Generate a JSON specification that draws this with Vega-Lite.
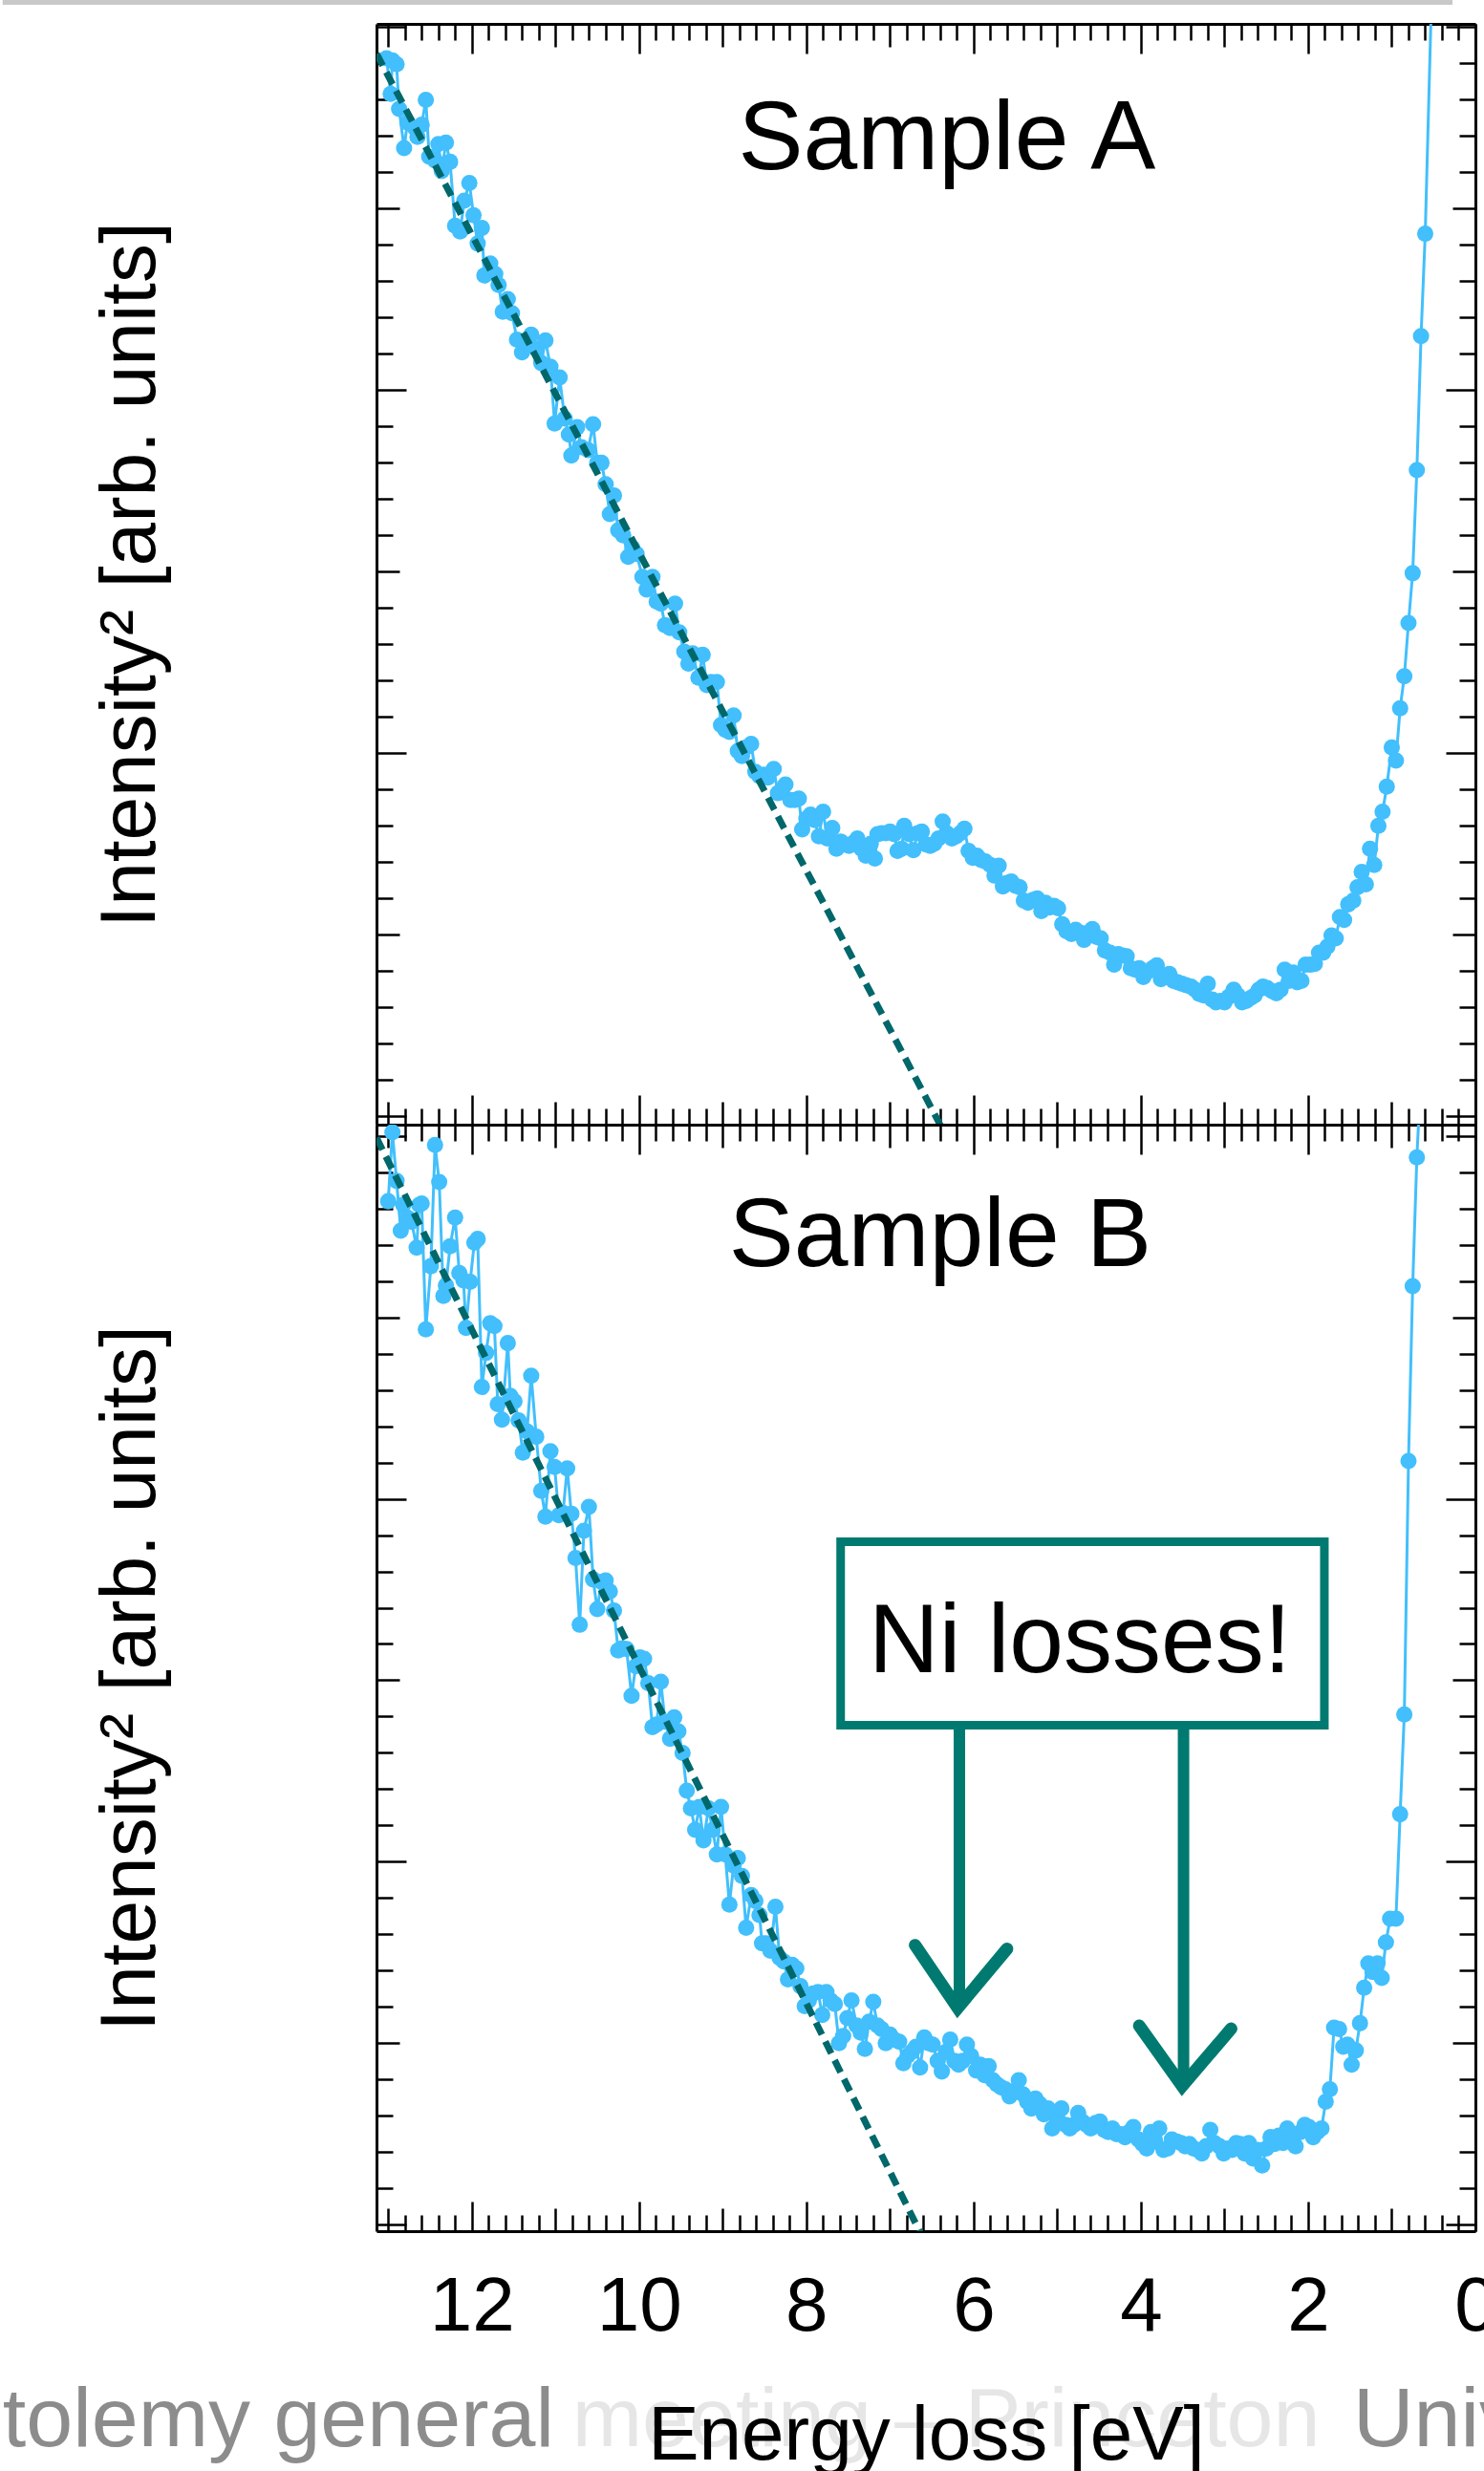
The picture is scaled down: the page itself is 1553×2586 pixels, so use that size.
{
  "$schema": "https://vega.github.io/schema/vega-lite/v6.json",
  "background": "white",
  "padding": 0,
  "autosize": {"type": "pad"},
  "spacing": 0,
  "bounds": "flush",
  "config": {
    "font": "Liberation Sans, Arial, sans-serif",
    "view": {"stroke": null},
    "axis": {"labelFont": "Liberation Sans, Arial, sans-serif", "titleFont": "Liberation Sans, Arial, sans-serif", "grid": false, "minExtent": 0, "maxExtent": 3000, "tickColor": "black", "domainColor": "black"}
  },
  "datasets": {
    "sampleA": [
      {"energy":13.02,"intensity":29.12},{"energy":12.97,"intensity":28.14},{"energy":12.95,"intensity":29.06},{"energy":12.90,"intensity":28.96},{"energy":12.87,"intensity":27.73},{"energy":12.81,"intensity":26.65},{"energy":12.77,"intensity":27.35},{"energy":12.68,"intensity":27.20},{"energy":12.65,"intensity":26.96},{"energy":12.60,"intensity":27.29},
      {"energy":12.55,"intensity":27.98},{"energy":12.51,"intensity":26.41},{"energy":12.44,"intensity":26.31},{"energy":12.40,"intensity":26.76},{"energy":12.36,"intensity":26.02},{"energy":12.31,"intensity":26.80},{"energy":12.26,"intensity":26.27},{"energy":12.20,"intensity":24.51},{"energy":12.14,"intensity":24.35},{"energy":12.09,"intensity":25.20},
      {"energy":12.03,"intensity":25.69},{"energy":11.98,"intensity":24.80},{"energy":11.93,"intensity":24.02},{"energy":11.88,"intensity":24.45},{"energy":11.85,"intensity":23.14},{"energy":11.78,"intensity":23.47},{"energy":11.72,"intensity":23.18},{"energy":11.68,"intensity":22.88},{"energy":11.63,"intensity":22.14},{"energy":11.57,"intensity":22.49},
      {"energy":11.52,"intensity":22.10},{"energy":11.46,"intensity":21.37},{"energy":11.40,"intensity":21.02},{"energy":11.35,"intensity":21.27},{"energy":11.29,"intensity":21.51},{"energy":11.23,"intensity":21.12},{"energy":11.17,"intensity":20.73},{"energy":11.12,"intensity":21.35},{"energy":11.06,"intensity":20.63},{"energy":11.01,"intensity":19.06},
      {"energy":10.95,"intensity":20.33},{"energy":10.89,"intensity":19.20},{"energy":10.84,"intensity":18.76},{"energy":10.81,"intensity":18.18},{"energy":10.74,"intensity":18.96},{"energy":10.69,"intensity":18.41},{"energy":10.61,"intensity":18.33},{"energy":10.55,"intensity":19.04},{"energy":10.50,"intensity":17.98},{"energy":10.45,"intensity":17.98},
      {"energy":10.40,"intensity":17.39},{"energy":10.35,"intensity":16.57},{"energy":10.30,"intensity":17.08},{"energy":10.25,"intensity":16.12},{"energy":10.19,"intensity":15.98},{"energy":10.13,"intensity":15.39},{"energy":10.08,"intensity":15.63},{"energy":10.03,"intensity":15.47},{"energy":9.96,"intensity":14.84},{"energy":9.91,"intensity":14.49},
      {"energy":9.84,"intensity":14.84},{"energy":9.79,"intensity":14.16},{"energy":9.74,"intensity":14.10},{"energy":9.69,"intensity":13.51},{"energy":9.63,"intensity":13.43},{"energy":9.57,"intensity":14.10},{"energy":9.52,"intensity":13.31},{"energy":9.46,"intensity":12.78},{"energy":9.41,"intensity":12.45},{"energy":9.36,"intensity":12.73},
      {"energy":9.29,"intensity":12.06},{"energy":9.24,"intensity":12.69},{"energy":9.19,"intensity":11.86},{"energy":9.14,"intensity":11.94},{"energy":9.07,"intensity":11.94},{"energy":9.02,"intensity":10.76},{"energy":8.97,"intensity":10.63},{"energy":8.92,"intensity":10.57},{"energy":8.87,"intensity":11.02},{"energy":8.82,"intensity":10.04},
      {"energy":8.77,"intensity":9.90},{"energy":8.72,"intensity":10.14},{"energy":8.66,"intensity":10.24},{"energy":8.61,"intensity":9.47},{"energy":8.56,"intensity":9.35},{"energy":8.51,"intensity":9.39},{"energy":8.46,"intensity":9.31},{"energy":8.39,"intensity":9.55},{"energy":8.34,"intensity":8.88},{"energy":8.29,"intensity":8.96},
      {"energy":8.25,"intensity":9.12},{"energy":8.19,"intensity":8.69},{"energy":8.14,"intensity":8.69},{"energy":8.09,"intensity":8.73},{"energy":8.05,"intensity":7.88},{"energy":8.00,"intensity":8.18},{"energy":7.95,"intensity":8.29},{"energy":7.90,"intensity":8.14},{"energy":7.85,"intensity":7.69},{"energy":7.80,"intensity":8.37},
      {"energy":7.75,"intensity":7.63},{"energy":7.69,"intensity":7.92},{"energy":7.64,"intensity":7.35},{"energy":7.59,"intensity":7.55},{"energy":7.54,"intensity":7.47},{"energy":7.49,"intensity":7.43},{"energy":7.44,"intensity":7.51},{"energy":7.39,"intensity":7.63},{"energy":7.34,"intensity":7.35},{"energy":7.29,"intensity":7.16},
      {"energy":7.23,"intensity":7.49},{"energy":7.18,"intensity":7.08},{"energy":7.15,"intensity":7.75},{"energy":7.10,"intensity":7.78},{"energy":7.05,"intensity":7.78},{"energy":7.00,"intensity":7.82},{"energy":6.95,"intensity":7.75},{"energy":6.91,"intensity":7.29},{"energy":6.86,"intensity":7.35},{"energy":6.83,"intensity":7.98},
      {"energy":6.77,"intensity":7.75},{"energy":6.72,"intensity":7.31},{"energy":6.67,"intensity":7.78},{"energy":6.62,"intensity":7.82},{"energy":6.57,"intensity":7.47},{"energy":6.52,"intensity":7.43},{"energy":6.47,"intensity":7.49},{"energy":6.42,"intensity":7.63},{"energy":6.37,"intensity":8.10},{"energy":6.32,"intensity":7.78},
      {"energy":6.26,"intensity":7.63},{"energy":6.21,"intensity":7.69},{"energy":6.16,"intensity":7.78},{"energy":6.11,"intensity":7.90},{"energy":6.06,"intensity":7.29},{"energy":6.01,"intensity":7.10},{"energy":5.96,"intensity":7.16},{"energy":5.91,"intensity":7.04},{"energy":5.86,"intensity":7.00},{"energy":5.80,"intensity":6.90},
      {"energy":5.75,"intensity":6.61},{"energy":5.70,"intensity":6.88},{"energy":5.65,"intensity":6.31},{"energy":5.60,"intensity":6.41},{"energy":5.55,"intensity":6.45},{"energy":5.50,"intensity":6.33},{"energy":5.45,"intensity":6.29},{"energy":5.40,"intensity":5.92},{"energy":5.35,"intensity":5.86},{"energy":5.29,"intensity":5.94},
      {"energy":5.24,"intensity":5.98},{"energy":5.19,"intensity":5.63},{"energy":5.14,"intensity":5.86},{"energy":5.09,"intensity":5.73},{"energy":5.04,"intensity":5.78},{"energy":4.99,"intensity":5.71},{"energy":4.94,"intensity":5.27},{"energy":4.89,"intensity":5.08},{"energy":4.83,"intensity":5.00},{"energy":4.78,"intensity":5.12},
      {"energy":4.73,"intensity":5.04},{"energy":4.68,"intensity":4.84},{"energy":4.63,"intensity":5.04},{"energy":4.58,"intensity":5.14},{"energy":4.53,"intensity":4.92},{"energy":4.48,"intensity":4.88},{"energy":4.43,"intensity":4.55},{"energy":4.37,"intensity":4.49},{"energy":4.32,"intensity":4.16},{"energy":4.27,"intensity":4.45},
      {"energy":4.22,"intensity":4.41},{"energy":4.17,"intensity":4.39},{"energy":4.12,"intensity":4.06},{"energy":4.07,"intensity":4.02},{"energy":4.02,"intensity":4.06},{"energy":3.97,"intensity":3.82},{"energy":3.92,"intensity":3.96},{"energy":3.86,"intensity":4.06},{"energy":3.81,"intensity":4.14},{"energy":3.76,"intensity":3.76},
      {"energy":3.71,"intensity":3.86},{"energy":3.66,"intensity":3.90},{"energy":3.61,"intensity":3.71},{"energy":3.56,"intensity":3.67},{"energy":3.51,"intensity":3.63},{"energy":3.46,"intensity":3.59},{"energy":3.40,"intensity":3.55},{"energy":3.35,"intensity":3.47},{"energy":3.30,"intensity":3.35},{"energy":3.25,"intensity":3.31},
      {"energy":3.20,"intensity":3.63},{"energy":3.15,"intensity":3.20},{"energy":3.10,"intensity":3.12},{"energy":3.05,"intensity":3.16},{"energy":3.00,"intensity":3.12},{"energy":2.95,"intensity":3.27},{"energy":2.89,"intensity":3.47},{"energy":2.84,"intensity":3.31},{"energy":2.79,"intensity":3.12},{"energy":2.74,"intensity":3.16},
      {"energy":2.69,"intensity":3.24},{"energy":2.64,"intensity":3.31},{"energy":2.59,"intensity":3.47},{"energy":2.54,"intensity":3.55},{"energy":2.49,"intensity":3.51},{"energy":2.43,"intensity":3.43},{"energy":2.38,"intensity":3.37},{"energy":2.33,"intensity":3.47},{"energy":2.28,"intensity":4.02},{"energy":2.23,"intensity":3.71},
      {"energy":2.18,"intensity":3.94},{"energy":2.13,"intensity":3.67},{"energy":2.08,"intensity":3.71},{"energy":2.03,"intensity":4.16},{"energy":1.97,"intensity":4.16},{"energy":1.92,"intensity":4.18},{"energy":1.87,"intensity":4.49},{"energy":1.82,"intensity":4.49},{"energy":1.77,"intensity":4.65},{"energy":1.72,"intensity":4.96},
      {"energy":1.67,"intensity":4.88},{"energy":1.62,"intensity":5.47},{"energy":1.57,"intensity":5.39},{"energy":1.52,"intensity":5.82},{"energy":1.46,"intensity":5.92},{"energy":1.41,"intensity":6.29},{"energy":1.36,"intensity":6.71},{"energy":1.31,"intensity":6.37},{"energy":1.26,"intensity":7.35},{"energy":1.21,"intensity":6.90},
      {"energy":1.16,"intensity":7.98},{"energy":1.11,"intensity":8.37},{"energy":1.06,"intensity":9.06},{"energy":1.00,"intensity":10.14},{"energy":0.95,"intensity":9.78},{"energy":0.90,"intensity":11.22},{"energy":0.85,"intensity":12.10},{"energy":0.80,"intensity":13.57},{"energy":0.75,"intensity":14.94},{"energy":0.70,"intensity":17.78},
      {"energy":0.65,"intensity":21.47},{"energy":0.60,"intensity":24.29},{"energy":0.52,"intensity":31.20}
    ],
    "sampleB": [
      {"energy":13.00,"intensity":28.20},{"energy":12.95,"intensity":30.10},{"energy":12.90,"intensity":28.76},{"energy":12.85,"intensity":27.39},{"energy":12.82,"intensity":28.10},{"energy":12.77,"intensity":27.75},{"energy":12.72,"intensity":27.63},{"energy":12.66,"intensity":26.92},{"energy":12.63,"intensity":28.10},{"energy":12.60,"intensity":28.14},
      {"energy":12.55,"intensity":24.67},{"energy":12.49,"intensity":26.41},{"energy":12.44,"intensity":29.75},{"energy":12.39,"intensity":28.73},{"energy":12.34,"intensity":25.59},{"energy":12.31,"intensity":25.88},{"energy":12.26,"intensity":26.96},{"energy":12.20,"intensity":27.75},{"energy":12.15,"intensity":26.22},{"energy":12.10,"intensity":26.02},
      {"energy":12.07,"intensity":24.71},{"energy":12.02,"intensity":25.98},{"energy":11.97,"intensity":27.06},{"energy":11.93,"intensity":27.16},{"energy":11.88,"intensity":23.08},{"energy":11.83,"intensity":24.02},{"energy":11.78,"intensity":24.84},{"energy":11.73,"intensity":24.76},{"energy":11.69,"intensity":22.61},{"energy":11.64,"intensity":22.18},
      {"energy":11.57,"intensity":24.29},{"energy":11.54,"intensity":22.84},{"energy":11.49,"intensity":22.69},{"energy":11.44,"intensity":22.16},{"energy":11.39,"intensity":21.27},{"energy":11.34,"intensity":21.86},{"energy":11.29,"intensity":23.39},{"energy":11.23,"intensity":21.71},{"energy":11.17,"intensity":20.22},{"energy":11.12,"intensity":19.51},
      {"energy":11.06,"intensity":21.31},{"energy":11.01,"intensity":20.88},{"energy":10.96,"intensity":19.55},{"energy":10.91,"intensity":19.61},{"energy":10.86,"intensity":20.84},{"energy":10.81,"intensity":19.59},{"energy":10.76,"intensity":18.37},{"energy":10.71,"intensity":16.53},{"energy":10.66,"intensity":19.12},{"energy":10.60,"intensity":19.78},
      {"energy":10.55,"intensity":17.78},{"energy":10.50,"intensity":16.96},{"energy":10.45,"intensity":17.71},{"energy":10.40,"intensity":17.75},{"energy":10.35,"intensity":17.45},{"energy":10.30,"intensity":16.92},{"energy":10.25,"intensity":15.82},{"energy":10.20,"intensity":15.88},{"energy":10.15,"intensity":15.86},{"energy":10.09,"intensity":14.57},
      {"energy":10.04,"intensity":15.39},{"energy":9.99,"intensity":15.63},{"energy":9.94,"intensity":15.59},{"energy":9.89,"intensity":14.92},{"energy":9.84,"intensity":13.71},{"energy":9.79,"intensity":13.78},{"energy":9.74,"intensity":14.96},{"energy":9.69,"intensity":13.86},{"energy":9.63,"intensity":13.39},{"energy":9.58,"intensity":13.98},
      {"energy":9.53,"intensity":13.59},{"energy":9.48,"intensity":13.00},{"energy":9.43,"intensity":11.96},{"energy":9.38,"intensity":11.47},{"energy":9.33,"intensity":10.88},{"energy":9.28,"intensity":11.51},{"energy":9.23,"intensity":10.59},{"energy":9.17,"intensity":11.47},{"energy":9.12,"intensity":10.88},{"energy":9.07,"intensity":10.20},
      {"energy":9.02,"intensity":11.51},{"energy":8.97,"intensity":10.20},{"energy":8.92,"intensity":8.82},{"energy":8.87,"intensity":9.90},{"energy":8.82,"intensity":10.10},{"energy":8.77,"intensity":9.61},{"energy":8.72,"intensity":8.18},{"energy":8.66,"intensity":9.08},{"energy":8.61,"intensity":8.92},{"energy":8.56,"intensity":8.53},
      {"energy":8.53,"intensity":7.75},{"energy":8.48,"intensity":7.75},{"energy":8.43,"intensity":7.55},{"energy":8.37,"intensity":8.76},{"energy":8.32,"intensity":7.35},{"energy":8.27,"intensity":7.25},{"energy":8.22,"intensity":6.76},{"energy":8.17,"intensity":7.16},{"energy":8.12,"intensity":7.06},{"energy":8.07,"intensity":6.57},
      {"energy":8.02,"intensity":6.02},{"energy":7.97,"intensity":6.18},{"energy":7.92,"intensity":6.37},{"energy":7.86,"intensity":6.41},{"energy":7.81,"intensity":5.78},{"energy":7.76,"intensity":6.41},{"energy":7.71,"intensity":6.18},{"energy":7.66,"intensity":6.08},{"energy":7.61,"intensity":5.00},{"energy":7.56,"intensity":5.20},
      {"energy":7.51,"intensity":5.69},{"energy":7.46,"intensity":6.18},{"energy":7.40,"intensity":5.49},{"energy":7.35,"intensity":5.29},{"energy":7.30,"intensity":4.84},{"energy":7.25,"intensity":5.59},{"energy":7.20,"intensity":6.14},{"energy":7.15,"intensity":5.49},{"energy":7.10,"intensity":5.39},{"energy":7.05,"intensity":5.00},
      {"energy":7.00,"intensity":5.24},{"energy":6.95,"intensity":5.10},{"energy":6.89,"intensity":5.04},{"energy":6.84,"intensity":4.45},{"energy":6.79,"intensity":4.65},{"energy":6.74,"intensity":4.76},{"energy":6.69,"intensity":4.90},{"energy":6.64,"intensity":4.33},{"energy":6.59,"intensity":5.16},{"energy":6.54,"intensity":5.00},
      {"energy":6.49,"intensity":4.96},{"energy":6.43,"intensity":4.51},{"energy":6.38,"intensity":4.22},{"energy":6.33,"intensity":4.76},{"energy":6.28,"intensity":5.10},{"energy":6.23,"intensity":4.51},{"energy":6.18,"intensity":4.41},{"energy":6.13,"intensity":4.51},{"energy":6.08,"intensity":4.96},{"energy":6.03,"intensity":4.65},
      {"energy":5.97,"intensity":4.25},{"energy":5.92,"intensity":4.41},{"energy":5.87,"intensity":4.12},{"energy":5.82,"intensity":4.37},{"energy":5.77,"intensity":3.98},{"energy":5.72,"intensity":3.86},{"energy":5.67,"intensity":3.78},{"energy":5.62,"intensity":3.73},{"energy":5.57,"intensity":3.53},{"energy":5.51,"intensity":3.67},
      {"energy":5.46,"intensity":3.98},{"energy":5.41,"intensity":3.59},{"energy":5.36,"intensity":3.39},{"energy":5.31,"intensity":3.20},{"energy":5.26,"intensity":3.47},{"energy":5.21,"intensity":3.33},{"energy":5.16,"intensity":3.04},{"energy":5.11,"intensity":3.20},{"energy":5.06,"intensity":2.65},{"energy":5.00,"intensity":2.94},
      {"energy":4.95,"intensity":3.20},{"energy":4.90,"intensity":2.75},{"energy":4.85,"intensity":2.65},{"energy":4.80,"intensity":2.75},{"energy":4.75,"intensity":3.08},{"energy":4.70,"intensity":2.84},{"energy":4.65,"intensity":2.75},{"energy":4.60,"intensity":2.65},{"energy":4.54,"intensity":2.80},{"energy":4.49,"intensity":2.84},
      {"energy":4.44,"intensity":2.61},{"energy":4.39,"intensity":2.55},{"energy":4.34,"intensity":2.65},{"energy":4.29,"intensity":2.49},{"energy":4.24,"intensity":2.49},{"energy":4.19,"intensity":2.41},{"energy":4.14,"intensity":2.55},{"energy":4.09,"intensity":2.69},{"energy":4.03,"intensity":2.35},{"energy":3.98,"intensity":2.22},
      {"energy":3.93,"intensity":2.10},{"energy":3.88,"intensity":2.55},{"energy":3.83,"intensity":2.29},{"energy":3.78,"intensity":2.65},{"energy":3.73,"intensity":2.06},{"energy":3.68,"intensity":2.10},{"energy":3.63,"intensity":2.35},{"energy":3.57,"intensity":2.29},{"energy":3.52,"intensity":2.25},{"energy":3.47,"intensity":2.16},
      {"energy":3.42,"intensity":2.22},{"energy":3.37,"intensity":2.10},{"energy":3.32,"intensity":2.06},{"energy":3.27,"intensity":1.96},{"energy":3.22,"intensity":2.16},{"energy":3.17,"intensity":2.61},{"energy":3.12,"intensity":2.25},{"energy":3.06,"intensity":2.16},{"energy":3.01,"intensity":1.96},{"energy":2.96,"intensity":2.10},
      {"energy":2.91,"intensity":2.06},{"energy":2.86,"intensity":2.25},{"energy":2.81,"intensity":2.22},{"energy":2.76,"intensity":1.96},{"energy":2.71,"intensity":2.25},{"energy":2.66,"intensity":1.82},{"energy":2.60,"intensity":2.06},{"energy":2.55,"intensity":1.63},{"energy":2.50,"intensity":2.10},{"energy":2.45,"intensity":2.41},
      {"energy":2.40,"intensity":2.22},{"energy":2.35,"intensity":2.45},{"energy":2.30,"intensity":2.25},{"energy":2.25,"intensity":2.65},{"energy":2.20,"intensity":2.29},{"energy":2.15,"intensity":2.16},{"energy":2.09,"intensity":2.55},{"energy":2.04,"intensity":2.75},{"energy":1.99,"intensity":2.69},{"energy":1.94,"intensity":2.41},
      {"energy":1.89,"intensity":2.55},{"energy":1.84,"intensity":2.65},{"energy":1.79,"intensity":3.39},{"energy":1.74,"intensity":3.73},{"energy":1.69,"intensity":5.43},{"energy":1.63,"intensity":5.39},{"energy":1.58,"intensity":4.90},{"energy":1.53,"intensity":4.96},{"energy":1.48,"intensity":4.41},{"energy":1.43,"intensity":4.80},
      {"energy":1.38,"intensity":5.55},{"energy":1.33,"intensity":6.53},{"energy":1.28,"intensity":7.20},{"energy":1.23,"intensity":6.96},{"energy":1.17,"intensity":7.20},{"energy":1.12,"intensity":6.80},{"energy":1.07,"intensity":7.78},{"energy":1.02,"intensity":8.43},{"energy":0.95,"intensity":8.43},{"energy":0.90,"intensity":11.31},
      {"energy":0.85,"intensity":14.06},{"energy":0.80,"intensity":21.04},{"energy":0.75,"intensity":25.86},{"energy":0.70,"intensity":29.41},{"energy":0.66,"intensity":31.27}
    ],
    "fitA": [{"energy": 13.14, "intensity": 29.25}, {"energy": 6.3, "intensity": -0.69}],
    "fitB": [{"energy": 13.14, "intensity": 29.95}, {"energy": 6.3, "intensity": -1.79}]
  },
  "vconcat": [
    {
      "width": 1150,
      "height": 1152,
      "resolve": {"axis": {"x": "independent", "y": "independent"}},
      "layer": [
        {
          "data": {"name": "sampleA"},
          "mark": {"type": "line", "color": "#42bffc", "strokeWidth": 3, "clip": true},
          "encoding": {
            "x": {"field": "energy", "type": "quantitative", "scale": {"domain": [0, 13.14], "reverse": true, "nice": false, "zero": false},
                  "axis": {"orient": "bottom", "values": [0,2,4,6,8,10,12], "tickSize": -31, "tickWidth": 2.5, "labels": false, "domain": true, "domainWidth": 3, "title": null}},
            "y": {"field": "intensity", "type": "quantitative", "scale": {"domain": [-0.25, 30.07], "nice": false, "zero": false},
                  "axis": {"orient": "left", "values": [0,10,20,30], "tickSize": -31, "tickWidth": 2.5, "labels": false, "domain": true, "domainWidth": 3,
                           "title": "Intensity² [arb. units]", "titleFontSize": 82, "titleFontWeight": "normal", "titleColor": "black", "titlePadding": 214}}
          }
        },
        {
          "data": {"name": "sampleA"},
          "mark": {"type": "circle", "color": "#42bffc", "size": 290, "opacity": 1, "clip": true},
          "encoding": {
            "x": {"field": "energy", "type": "quantitative", "scale": {"domain": [0, 13.14], "reverse": true, "nice": false, "zero": false},
                  "axis": {"orient": "bottom", "values": [1,3,5,7,9,11,13], "tickSize": -24, "tickWidth": 2.5, "labels": false, "domain": false, "title": null}},
            "y": {"field": "intensity", "type": "quantitative", "scale": {"domain": [-0.25, 30.07], "nice": false, "zero": false},
                  "axis": {"orient": "left", "values": [5,15,25], "tickSize": -24, "tickWidth": 2.5, "labels": false, "domain": false, "title": null}}
          }
        },
        {
          "data": {"name": "fitA"},
          "mark": {"type": "line", "color": "#00676a", "strokeWidth": 7, "strokeDash": [14, 8], "clip": true},
          "encoding": {
            "x": {"field": "energy", "type": "quantitative", "scale": {"domain": [0, 13.14], "reverse": true, "nice": false, "zero": false},
                  "axis": {"orient": "bottom", "values": [0.2,0.4,0.6,0.8,1.2,1.4,1.6,1.8,2.2,2.4,2.6,2.8,3.2,3.4,3.6,3.8,4.2,4.4,4.6,4.8,5.2,5.4,5.6,5.8,6.2,6.4,6.6,6.8,7.2,7.4,7.6,7.8,8.2,8.4,8.6,8.8,9.2,9.4,9.6,9.8,10.2,10.4,10.6,10.8,11.2,11.4,11.6,11.8,12.2,12.4,12.6,12.8], "tickSize": -17, "tickWidth": 2.5, "labels": false, "domain": false, "title": null}},
            "y": {"field": "intensity", "type": "quantitative", "scale": {"domain": [-0.25, 30.07], "nice": false, "zero": false},
                  "axis": {"orient": "left", "values": [1,2,3,4,6,7,8,9,11,12,13,14,16,17,18,19,21,22,23,24,26,27,28,29], "tickSize": -17, "tickWidth": 2.5, "labels": false, "domain": false, "title": null}}
          }
        },
        {
          "data": {"values": [{"energy": 6.32, "intensity": 26.08, "label": "Sample A"}]},
          "mark": {"type": "text", "fontSize": 102, "align": "center", "baseline": "alphabetic", "color": "black"},
          "encoding": {
            "x": {"field": "energy", "type": "quantitative", "scale": {"domain": [0, 13.14], "reverse": true, "nice": false, "zero": false},
                  "axis": {"orient": "top", "values": [0,2,4,6,8,10,12], "tickSize": -31, "tickWidth": 2.5, "labels": false, "domain": true, "domainWidth": 3, "title": null}},
            "y": {"field": "intensity", "type": "quantitative", "scale": {"domain": [-0.25, 30.07], "nice": false, "zero": false},
                  "axis": {"orient": "right", "values": [0,10,20,30], "tickSize": -31, "tickWidth": 2.5, "labels": false, "domain": true, "domainWidth": 3, "title": null}},
            "text": {"field": "label"}
          }
        },
        {
          "data": {"values": [{"start": 17.61, "end": 0.274, "intensity": 30.66}]},
          "mark": {"type": "rule", "color": "#c8c8c8", "strokeWidth": 5},
          "encoding": {
            "x": {"field": "start", "type": "quantitative", "scale": {"domain": [0, 13.14], "reverse": true, "nice": false, "zero": false},
                  "axis": {"orient": "top", "values": [1,3,5,7,9,11,13], "tickSize": -24, "tickWidth": 2.5, "labels": false, "domain": false, "title": null}},
            "x2": {"field": "end"},
            "y": {"field": "intensity", "type": "quantitative", "scale": {"domain": [-0.25, 30.07], "nice": false, "zero": false},
                  "axis": {"orient": "right", "values": [5,15,25], "tickSize": -24, "tickWidth": 2.5, "labels": false, "domain": false, "title": null}}
          }
        },
        {
          "data": {"name": "fitA"},
          "mark": {"type": "point", "opacity": 0, "clip": true},
          "encoding": {
            "x": {"field": "energy", "type": "quantitative", "scale": {"domain": [0, 13.14], "reverse": true, "nice": false, "zero": false},
                  "axis": {"orient": "top", "values": [0.2,0.4,0.6,0.8,1.2,1.4,1.6,1.8,2.2,2.4,2.6,2.8,3.2,3.4,3.6,3.8,4.2,4.4,4.6,4.8,5.2,5.4,5.6,5.8,6.2,6.4,6.6,6.8,7.2,7.4,7.6,7.8,8.2,8.4,8.6,8.8,9.2,9.4,9.6,9.8,10.2,10.4,10.6,10.8,11.2,11.4,11.6,11.8,12.2,12.4,12.6,12.8], "tickSize": -17, "tickWidth": 2.5, "labels": false, "domain": false, "title": null}},
            "y": {"field": "intensity", "type": "quantitative", "scale": {"domain": [-0.25, 30.07], "nice": false, "zero": false},
                  "axis": {"orient": "right", "values": [1,2,3,4,6,7,8,9,11,12,13,14,16,17,18,19,21,22,23,24,26,27,28,29], "tickSize": -17, "tickWidth": 2.5, "labels": false, "domain": false, "title": null}}
          }
        }
      ]
    },
    {
      "width": 1150,
      "height": 1158,
      "resolve": {"axis": {"x": "independent", "y": "independent"}},
      "layer": [
        {
          "data": {"name": "sampleB"},
          "mark": {"type": "line", "color": "#42bffc", "strokeWidth": 3, "clip": true},
          "encoding": {
            "x": {"field": "energy", "type": "quantitative", "scale": {"domain": [0, 13.14], "reverse": true, "nice": false, "zero": false},
                  "axis": {"orient": "bottom", "values": [0,2,4,6,8,10,12], "tickSize": -31, "tickWidth": 2.5, "labels": false, "domain": true, "domainWidth": 3, "title": null}},
            "y": {"field": "intensity", "type": "quantitative", "scale": {"domain": [-0.18, 30.31], "nice": false, "zero": false},
                  "axis": {"orient": "left", "values": [0,10,20,30], "tickSize": -31, "tickWidth": 2.5, "labels": false, "domain": true, "domainWidth": 3,
                           "title": "Intensity² [arb. units]", "titleFontSize": 82, "titleFontWeight": "normal", "titleColor": "black", "titlePadding": 214}}
          }
        },
        {
          "data": {"name": "sampleB"},
          "mark": {"type": "circle", "color": "#42bffc", "size": 290, "opacity": 1, "clip": true},
          "encoding": {
            "x": {"field": "energy", "type": "quantitative", "scale": {"domain": [0, 13.14], "reverse": true, "nice": false, "zero": false},
                  "axis": {"orient": "bottom", "values": [1,3,5,7,9,11,13], "tickSize": -24, "tickWidth": 2.5, "labels": false, "domain": false, "title": null}},
            "y": {"field": "intensity", "type": "quantitative", "scale": {"domain": [-0.18, 30.31], "nice": false, "zero": false},
                  "axis": {"orient": "left", "values": [5,15,25], "tickSize": -24, "tickWidth": 2.5, "labels": false, "domain": false, "title": null}}
          }
        },
        {
          "data": {"name": "fitB"},
          "mark": {"type": "line", "color": "#00676a", "strokeWidth": 7, "strokeDash": [14, 8], "clip": true},
          "encoding": {
            "x": {"field": "energy", "type": "quantitative", "scale": {"domain": [0, 13.14], "reverse": true, "nice": false, "zero": false},
                  "axis": {"orient": "bottom", "values": [0.2,0.4,0.6,0.8,1.2,1.4,1.6,1.8,2.2,2.4,2.6,2.8,3.2,3.4,3.6,3.8,4.2,4.4,4.6,4.8,5.2,5.4,5.6,5.8,6.2,6.4,6.6,6.8,7.2,7.4,7.6,7.8,8.2,8.4,8.6,8.8,9.2,9.4,9.6,9.8,10.2,10.4,10.6,10.8,11.2,11.4,11.6,11.8,12.2,12.4,12.6,12.8], "tickSize": -17, "tickWidth": 2.5, "labels": false, "domain": false, "title": null}},
            "y": {"field": "intensity", "type": "quantitative", "scale": {"domain": [-0.18, 30.31], "nice": false, "zero": false},
                  "axis": {"orient": "left", "values": [1,2,3,4,6,7,8,9,11,12,13,14,16,17,18,19,21,22,23,24,26,27,28,29], "tickSize": -17, "tickWidth": 2.5, "labels": false, "domain": false, "title": null}}
          }
        },
        {
          "data": {"values": [{"energy": 6.17, "top": 13.76, "tip": 5.97}, {"energy": 3.49, "top": 13.76, "tip": 3.82}]},
          "mark": {"type": "rule", "color": "#007a70", "strokeWidth": 12},
          "encoding": {
            "x": {"field": "energy", "type": "quantitative", "scale": {"domain": [0, 13.14], "reverse": true, "nice": false, "zero": false},
                  "axis": {"orient": "bottom", "values": [0,2,4,6,8,10,12], "ticks": false, "tickSize": 0, "domain": false, "labels": true, "labelFontSize": 80, "labelColor": "black", "labelPadding": 40, "labelFlush": false, "labelOverlap": false,
                           "title": "Energy loss [eV]", "titleFontSize": 80, "titleFontWeight": "normal", "titleColor": "black", "titlePadding": 56, "zindex": 1}},
            "y": {"field": "top", "type": "quantitative", "scale": {"domain": [-0.18, 30.31], "nice": false, "zero": false}, "axis": null},
            "y2": {"field": "tip"}
          }
        },
        {
          "data": {"values": [
            {"arrow": 1, "step": 0, "energy": 6.70, "intensity": 7.70},
            {"arrow": 1, "step": 1, "energy": 6.19, "intensity": 5.97},
            {"arrow": 1, "step": 2, "energy": 5.60, "intensity": 7.60},
            {"arrow": 2, "step": 0, "energy": 4.02, "intensity": 5.48},
            {"arrow": 2, "step": 1, "energy": 3.506, "intensity": 3.82},
            {"arrow": 2, "step": 2, "energy": 2.92, "intensity": 5.40}
          ]},
          "mark": {"type": "line", "color": "#007a70", "strokeWidth": 13, "strokeJoin": "miter", "strokeCap": "round"},
          "encoding": {
            "x": {"field": "energy", "type": "quantitative", "scale": {"domain": [0, 13.14], "reverse": true, "nice": false, "zero": false}, "axis": null},
            "y": {"field": "intensity", "type": "quantitative", "scale": {"domain": [-0.18, 30.31], "nice": false, "zero": false}, "axis": null},
            "detail": {"field": "arrow", "type": "nominal"},
            "order": {"field": "step", "type": "quantitative"}
          }
        },
        {
          "data": {"values": [{"left": 7.59, "right": 1.806, "top": 18.82, "bottom": 13.76}]},
          "mark": {"type": "rect", "fill": "white", "stroke": "#007a70", "strokeWidth": 9},
          "encoding": {
            "x": {"field": "left", "type": "quantitative", "scale": {"domain": [0, 13.14], "reverse": true, "nice": false, "zero": false},
                  "axis": {"orient": "top", "values": [1,3,5,7,9,11,13], "tickSize": -24, "tickWidth": 2.5, "labels": false, "domain": false, "title": null}},
            "x2": {"field": "right"},
            "y": {"field": "top", "type": "quantitative", "scale": {"domain": [-0.18, 30.31], "nice": false, "zero": false},
                  "axis": {"orient": "right", "values": [5,15,25], "tickSize": -24, "tickWidth": 2.5, "labels": false, "domain": false, "title": null}},
            "y2": {"field": "bottom"}
          }
        },
        {
          "data": {"values": [{"energy": 4.73, "intensity": 15.22, "label": "Ni losses!"}]},
          "mark": {"type": "text", "fontSize": 102, "align": "center", "baseline": "alphabetic", "color": "black"},
          "encoding": {
            "x": {"field": "energy", "type": "quantitative", "scale": {"domain": [0, 13.14], "reverse": true, "nice": false, "zero": false},
                  "axis": {"orient": "top", "values": [0.2,0.4,0.6,0.8,1.2,1.4,1.6,1.8,2.2,2.4,2.6,2.8,3.2,3.4,3.6,3.8,4.2,4.4,4.6,4.8,5.2,5.4,5.6,5.8,6.2,6.4,6.6,6.8,7.2,7.4,7.6,7.8,8.2,8.4,8.6,8.8,9.2,9.4,9.6,9.8,10.2,10.4,10.6,10.8,11.2,11.4,11.6,11.8,12.2,12.4,12.6,12.8], "tickSize": -17, "tickWidth": 2.5, "labels": false, "domain": false, "title": null}},
            "y": {"field": "intensity", "type": "quantitative", "scale": {"domain": [-0.18, 30.31], "nice": false, "zero": false},
                  "axis": {"orient": "right", "values": [1,2,3,4,6,7,8,9,11,12,13,14,16,17,18,19,21,22,23,24,26,27,28,29], "tickSize": -17, "tickWidth": 2.5, "labels": false, "domain": false, "title": null}},
            "text": {"field": "label"}
          }
        },
        {
          "data": {"values": [{"energy": 6.40, "intensity": 26.42, "label": "Sample B"}]},
          "mark": {"type": "text", "fontSize": 102, "align": "center", "baseline": "alphabetic", "color": "black"},
          "encoding": {
            "x": {"field": "energy", "type": "quantitative", "scale": {"domain": [0, 13.14], "reverse": true, "nice": false, "zero": false},
                  "axis": {"orient": "top", "values": [0,2,4,6,8,10,12], "tickSize": -31, "tickWidth": 2.5, "labels": false, "domain": true, "domainWidth": 3, "title": null}},
            "y": {"field": "intensity", "type": "quantitative", "scale": {"domain": [-0.18, 30.31], "nice": false, "zero": false},
                  "axis": {"orient": "right", "values": [0,10,20,30], "tickSize": -31, "tickWidth": 2.5, "labels": false, "domain": true, "domainWidth": 3, "title": null}},
            "text": {"field": "label"}
          }
        },
        {
          "data": {"values": [{"energy": 17.61, "intensity": -6.1, "label": "tolemy general"}, {"energy": 1.463, "intensity": -6.1, "label": "Univ"}]},
          "mark": {"type": "text", "fontSize": 88, "align": "left", "baseline": "alphabetic", "color": "#8c8c8c"},
          "encoding": {
            "x": {"field": "energy", "type": "quantitative", "scale": {"domain": [0, 13.14], "reverse": true, "nice": false, "zero": false}, "axis": null},
            "y": {"field": "intensity", "type": "quantitative", "scale": {"domain": [-0.18, 30.31], "nice": false, "zero": false}, "axis": null},
            "text": {"field": "label"}
          }
        },
        {
          "data": {"values": [{"energy": 10.80, "intensity": -6.1, "label": "meeting – Princeton"}]},
          "mark": {"type": "text", "fontSize": 88, "align": "left", "baseline": "alphabetic", "color": "#e6e6e6"},
          "encoding": {
            "x": {"field": "energy", "type": "quantitative", "scale": {"domain": [0, 13.14], "reverse": true, "nice": false, "zero": false}, "axis": null},
            "y": {"field": "intensity", "type": "quantitative", "scale": {"domain": [-0.18, 30.31], "nice": false, "zero": false}, "axis": null},
            "text": {"field": "label"}
          }
        }
      ]
    }
  ]
}
